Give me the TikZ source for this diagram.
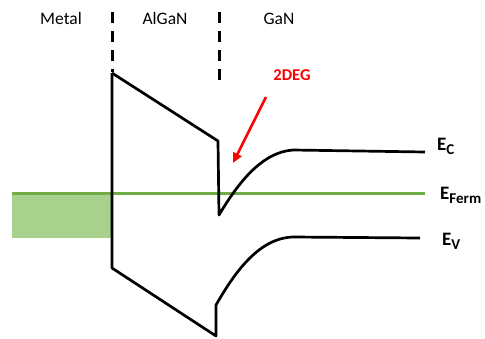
\documentclass[tikz,border=0pt]{standalone}
\usepackage{fontspec}
\setmainfont{Carlito}
\usetikzlibrary{arrows.meta}
\definecolor{fermgreen}{HTML}{70AD47}
\definecolor{fillgreen}{HTML}{A9D18E}
\definecolor{degred}{HTML}{FF0000}
\newcommand{\bandsub}[1]{\raisebox{-4pt}{\fontsize{15}{17}\selectfont #1}}
\tikzset{
  band/.style={line width=2.7pt, black, line join=round},
  sep/.style={line width=3pt, black, dash pattern=on 11pt off 8pt},
  lbl/.style={font=\fontsize{17.5}{19}\selectfont, anchor=base, inner sep=0pt},
  elab/.style={font=\fontsize{19}{21}\selectfont\bfseries, anchor=base west, inner sep=0pt},
}
\begin{document}
\begin{tikzpicture}[x=1pt,y=-1pt]
\useasboundingbox (0,0) rectangle (485,338);
% metal fill
\fill[fillgreen] (12,193) rectangle (112,238);
% separators
\draw[sep] (112,12) -- (112,72);
\draw[sep] (219,12) -- (219,88);
% labels
\node[lbl] (metal) at (61,24) {Metal};
\node[lbl] (algan) at (165,24) {AlGaN};
\node[lbl] (gan) at (279,24) {GaN};
% fermi
\draw[fermgreen, line width=3pt] (12,193) coordinate (f0) -- (425,193) coordinate (f1);
% conduction band
\coordinate (c0) at (112,73);
\coordinate (c1) at (218,141);
\coordinate (c2) at (219,215);
\coordinate (c3) at (293,150);
\coordinate (c4) at (425,152);
\draw[band] (c0) -- (c1) -- (c2) .. controls (238,183) and (262,152) .. (c3) -- (c4);
% valence band
\coordinate (v0) at (112,268);
\coordinate (v1) at (216,336);
\coordinate (v2) at (216,305);
\coordinate (v3) at (293,237);
\coordinate (v4) at (420,238);
\draw[band] (c0) -- (v0) -- (v1) -- (v2) .. controls (236,270) and (260,238) .. (v3) -- (v4);
% 2DEG
\node[font=\fontsize{16.5}{18}\selectfont\bfseries, text=degred, inner sep=0pt] (deg) at (292,75) {2DEG};
\coordinate (a0) at (266,97);
\coordinate (a1) at (233,163);
\draw[degred, line width=2.6pt, -{Triangle[length=10pt,width=9pt]}] (a0) -- (a1);
% band labels
\node[elab] (ec) at (437,150) {E\bandsub{C}};
\node[elab] (ef) at (440,199) {E\bandsub{Ferm}};
\node[elab] (ev) at (442,245) {E\bandsub{V}};
\end{tikzpicture}
\end{document}
